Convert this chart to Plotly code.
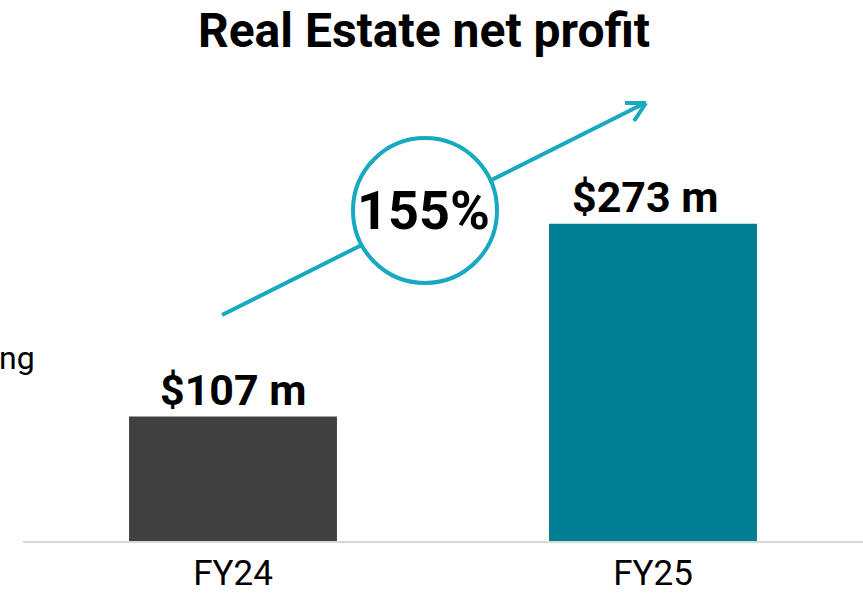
import plotly.graph_objects as go

categories = ["FY24", "FY25"]
values = [107, 273]
value_labels = ["$107 m", "$273 m"]
bar_colors = ["#404040", "#007f93"]
growth_label = "155%"
title_text = "Real Estate net profit"
side_text = "ng"

ACCENT = "#17a9bf"

# plot area geometry (pixels) for paper-coordinate decorations
L, R, T, B = 23, 0, 76, 54
W, H = 863, 595
pw, ph = W - L - R, H - T - B

def px(x):
    return (x - L) / pw

def py(y):
    return (H - B - y) / ph

fig = go.Figure()
fig.add_trace(go.Bar(
    x=categories, y=values, marker=dict(color=bar_colors, line=dict(width=0)),
    width=0.495, hoverinfo="skip",
))

label_xshift = [0, -8]
for i, (c, v, t) in enumerate(zip(categories, values, value_labels)):
    fig.add_annotation(x=c, y=v, text=f"<b>{t}</b>", showarrow=False,
                       yanchor="bottom", yshift=0, xshift=label_xshift[i],
                       font=dict(family="Roboto", size=43, color="#000000"))

shapes = []
# arrow line
shapes.append(dict(type="line", xref="paper", yref="paper",
                   x0=px(222), y0=py(315), x1=px(645), y1=py(103),
                   line=dict(color=ACCENT, width=4)))
# chevron head
shapes.append(dict(type="line", xref="paper", yref="paper",
                   x0=px(625), y0=py(103), x1=px(646), y1=py(103),
                   line=dict(color=ACCENT, width=4)))
shapes.append(dict(type="line", xref="paper", yref="paper",
                   x0=px(634), y0=py(121), x1=px(646), y1=py(103),
                   line=dict(color=ACCENT, width=4)))
# circle
shapes.append(dict(type="circle", xref="paper", yref="paper",
                   x0=px(353), y0=py(283), x1=px(497), y1=py(138),
                   fillcolor="white", line=dict(color=ACCENT, width=4)))

fig.add_annotation(xref="paper", yref="paper", x=px(423), y=py(211),
                   xanchor="center", yanchor="middle",
                   text=f"<b>{growth_label}</b>", showarrow=False,
                   font=dict(family="Roboto", size=54, color="#000000"))

fig.add_annotation(xref="paper", yref="paper", x=px(37), y=py(358),
                   text=side_text, showarrow=False, xanchor="right", yanchor="middle",
                   font=dict(family="Roboto", size=32, color="#000000"))

fig.update_layout(
    width=W, height=H,
    margin=dict(l=L, r=R, t=T, b=B),
    paper_bgcolor="white", plot_bgcolor="white",
    showlegend=False,
    shapes=shapes,
    title=dict(text=f"<b>{title_text}</b>", x=424 / W, xanchor="center",
               y=1 - 30 / H, yanchor="middle",
               font=dict(family="Roboto", size=48, color="#000000")),
    xaxis=dict(range=[-0.5, 1.5], showline=True, linecolor="#d9d9d9", linewidth=2,
               ticks="", showgrid=False, zeroline=False, automargin=False,
               tickfont=dict(family="Roboto", size=35, color="#000000")),
    yaxis=dict(range=[0, 400], visible=False, showgrid=False, zeroline=False),
)

fig.write_html("out.html", config={"displayModeBar": False},
               post_script="document.body.style.margin='0px';document.body.style.overflow='hidden';")
